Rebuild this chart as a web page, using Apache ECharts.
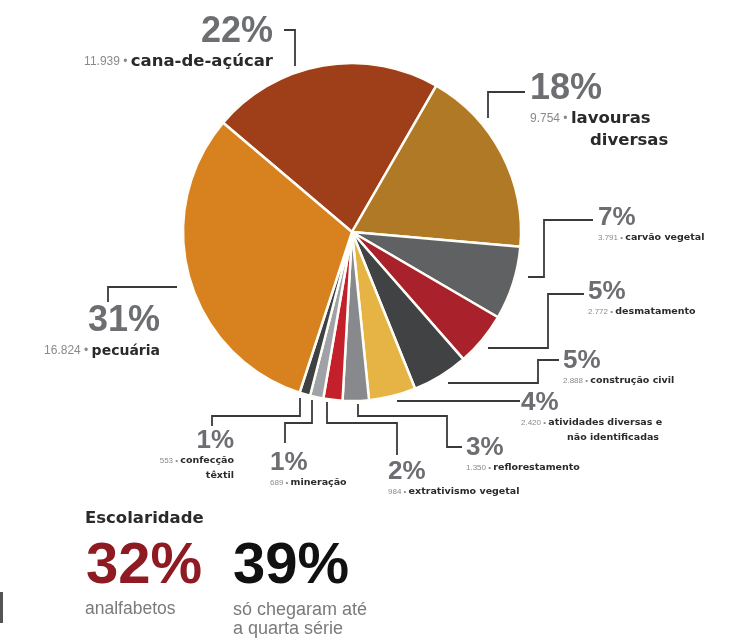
<!DOCTYPE html>
<html><head><meta charset="utf-8">
<script src="https://cdn.jsdelivr.net/npm/echarts@6/dist/echarts.min.js"></script>
<style>html,body{margin:0;padding:0;background:#fff}#c{width:733px;height:640px}</style>
</head><body><div id="c"></div>
<script>
// ---- data ----
const categories = ['cana-de-açúcar','lavouras diversas','carvão vegetal','desmatamento','construção civil','atividades diversas e não identificadas','reflorestamento','extrativismo vegetal','mineração','confecção têxtil','pecuária'];
const displayNames = ['cana-de-açúcar','lavouras\ndiversas','carvão vegetal','desmatamento','construção civil','atividades diversas e\nnão identificadas','reflorestamento','extrativismo vegetal','mineração','confecção\ntêxtil','pecuária'];
const workers = [11939, 9754, 3791, 2772, 2888, 2420, 1350, 984, 689, 553, 16824];
const percentLabels = ['22%','18%','7%','5%','5%','4%','3%','2%','1%','1%','31%'];
const sliceColors = ['#9e3f19','#b07926','#606163','#a8212b','#414244','#e6b444','#87898c','#c4202c','#9fa2a6','#3f4042','#d7811f'];

const schoolTitle = 'Escolaridade';
const schoolPercents = ['32%','39%'];
const schoolTexts = ['analfabetos','só chegaram até\na quarta série'];

// ---- label placement (layout only) ----
const placement = [
  {x:273, y:13,  align:'right', size:'L', nm:17, line:[[295,66],[295,30],[284,30]]},
  {x:530, y:70,  align:'left',  size:'L', nm:17, indent:60, line:[[488,118],[488,92],[525,92]]},
  {x:598, y:206, align:'left',  size:'S', line:[[528,277],[544,277],[544,220],[593,220]]},
  {x:588, y:280, align:'left',  size:'S', line:[[488,348],[548,348],[548,294],[584,294]]},
  {x:563, y:349, align:'left',  size:'S', line:[[448,383],[538,383],[538,360],[559,360]]},
  {x:521, y:391, align:'left',  size:'S', indent:46, line:[[397,401],[520,401]]},
  {x:466, y:436, align:'left',  size:'S', line:[[358,404],[358,416],[447,416],[447,447],[462,447]]},
  {x:388, y:460, align:'left',  size:'S', line:[[327,402],[327,423],[397,423],[397,455]]},
  {x:270, y:451, align:'left',  size:'S', line:[[312,400],[312,423],[285,423],[285,443]]},
  {x:234, y:429, align:'right', size:'S', line:[[300,398],[300,416],[212,416],[212,426]]},
  {x:160, y:302, align:'right', size:'L', nm:14, line:[[177,287],[108,287],[108,302]]}
];

function fmt(v){ return String(v).replace(/\B(?=(\d{3})+(?!\d))/g, '.'); }

const chart = echarts.init(document.getElementById('c'), null, {renderer:'canvas'});
const rich = {
  pL:{fontFamily:'Liberation Sans, Arial', fontWeight:'bold', fontSize:36, color:'#6d6e71', lineHeight:38},
  pS:{fontFamily:'Liberation Sans, Arial', fontWeight:'bold', fontSize:26, color:'#6d6e71', lineHeight:24},
  vL:{fontFamily:'Liberation Sans, Arial', fontSize:12, color:'#8a8a8a', lineHeight:22},
  vS:{fontFamily:'Liberation Sans, Arial', fontSize:8, color:'#8a8a8a', lineHeight:15},
  n17:{fontFamily:'DejaVu Sans', fontWeight:'bold', fontSize:16.5, color:'#2a2a2a', lineHeight:22},
  n14:{fontFamily:'DejaVu Sans', fontWeight:'bold', fontSize:14, color:'#2a2a2a', lineHeight:22},
  nS:{fontFamily:'DejaVu Sans', fontWeight:'bold', fontSize:9.5, color:'#2a2a2a', lineHeight:15},
  i60:{width:60, fontSize:8, lineHeight:22},
  i46:{width:46, fontSize:8, lineHeight:15}
};

chart.setOption({
  animation:false,
  backgroundColor:'#ffffff',
  series:[{
    type:'pie',
    center:[352,232],
    radius:[0,169],
    startAngle:139.7,
    clockwise:true,
    avoidLabelOverlap:false,
    data: categories.map((c,i)=>({name:c, value:workers[i], itemStyle:{color:sliceColors[i]}})),
    itemStyle:{borderColor:'#fffdf8', borderWidth:2.5},
    label:{
      show:true,
      position:'outside',
      rich:rich,
      formatter:function(p){
        const i = p.dataIndex, pl = placement[i];
        const L = pl.size === 'L';
        const pk = L ? 'pL' : 'pS', vk = L ? 'vL' : 'vS';
        const nk = L ? (pl.nm === 14 ? 'n14' : 'n17') : 'nS';
        const lines = displayNames[i].split('\n');
        let s = '{'+pk+'|'+percentLabels[i]+'}\n{'+vk+'|'+fmt(workers[i])+' • }{'+nk+'|'+lines[0]+'}';
        for (let k=1;k<lines.length;k++){
          if (pl.indent) s += '\n{'+(pl.indent===60?'i60':'i46')+'| }{'+nk+'|'+lines[k]+'}';
          else s += '\n{'+nk+'|'+lines[k]+'}';
        }
        return s;
      }
    },
    labelLine:{show:true, smooth:false, lineStyle:{color:'#3a3a3a', width:1.8}},
    labelLayout:function(p){
      const pl = placement[p.dataIndex];
      return {x:pl.x, y:pl.y, align:pl.align, verticalAlign:'top', labelLinePoints:pl.line, hideOverlap:false, moveOverlap:null};
    },
    emphasis:{disabled:true}
  }],
  graphic:[
    {type:'text', left:85, top:510, style:{text:schoolTitle, font:'bold 16.5px "DejaVu Sans"', fill:'#2a2a2a'}},
    {type:'text', x:86, y:567, style:{text:schoolPercents[0], font:'bold 58px "Liberation Sans", Arial', fill:'#8e1b22', verticalAlign:'middle'}},
    {type:'text', x:233, y:567, style:{text:schoolPercents[1], font:'bold 58px "Liberation Sans", Arial', fill:'#111111', verticalAlign:'middle'}},
    {type:'text', x:85, y:600, style:{text:schoolTexts[0], font:'17.5px "Liberation Sans", Arial', fill:'#7a7a7a', verticalAlign:'top'}},
    {type:'text', x:233, y:601, style:{text:schoolTexts[1], font:'18px "Liberation Sans", Arial', fill:'#7a7a7a', verticalAlign:'top', lineHeight:19}},
    {type:'rect', shape:{x:0, y:592, width:3, height:31}, style:{fill:'#555'}}
  ]
});
</script></body></html>
